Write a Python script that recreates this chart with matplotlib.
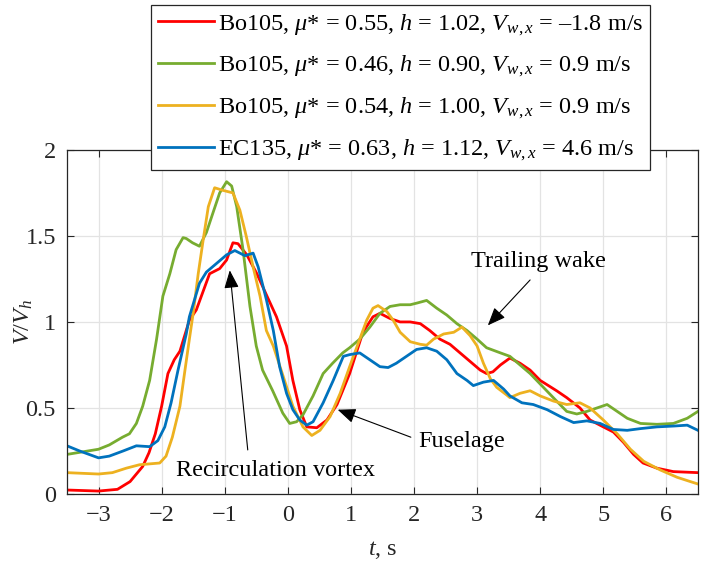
import matplotlib
matplotlib.use("Agg")
import matplotlib.pyplot as plt

plt.rcParams["font.family"] = ["Liberation Serif", "DejaVu Serif"]
plt.rcParams["mathtext.fontset"] = "custom"
plt.rcParams["mathtext.rm"] = "Liberation Serif"
plt.rcParams["mathtext.it"] = "Liberation Serif:italic"

FS = 17.5

t_red = [-3.5, -3.0, -2.7, -2.5, -2.3, -2.2, -2.1, -2.0, -1.9, -1.8, -1.71, -1.56, -1.45, -1.35,
         -1.24, -1.08, -0.97, -0.87, -0.79, -0.65, -0.49, -0.33, -0.18, -0.02, 0.08, 0.19, 0.30,
         0.46, 0.62, 0.78, 0.98, 1.19, 1.35, 1.46, 1.62, 1.78, 1.94, 2.10, 2.25, 2.41, 2.57, 2.73,
         2.89, 3.05, 3.15, 3.25, 3.37, 3.52, 3.68, 3.84, 4.0, 4.26, 4.42, 4.63, 4.79, 5.0, 5.16,
         5.32, 5.48, 5.63, 5.85, 6.11, 6.5]
v_red = [0.023, 0.017, 0.027, 0.072, 0.16, 0.24, 0.35, 0.51, 0.70, 0.78, 0.83, 1.01, 1.07, 1.17,
         1.28, 1.31, 1.36, 1.46, 1.455, 1.39, 1.28, 1.15, 1.03, 0.86, 0.66, 0.49, 0.39,
         0.385, 0.43, 0.52, 0.70, 0.94, 1.03, 1.05, 1.02, 1.00, 1.00, 0.99, 0.95, 0.90, 0.87, 0.82,
         0.77, 0.72, 0.70, 0.71, 0.75, 0.79, 0.76, 0.72, 0.66, 0.60, 0.56, 0.50, 0.43, 0.39, 0.36,
         0.30, 0.23, 0.18, 0.15, 0.13, 0.124]

t_green = [-3.5, -3.0, -2.83, -2.62, -2.51, -2.40, -2.30, -2.19, -2.08, -1.98, -1.87, -1.77,
           -1.66, -1.61, -1.51, -1.40, -1.29, -1.19, -1.08, -0.97, -0.89, -0.81, -0.71, -0.60,
           -0.50, -0.40, -0.24, -0.08, 0.03, 0.14, 0.24, 0.40, 0.56, 0.71, 0.87, 0.98, 1.14,
           1.30, 1.46, 1.62, 1.78, 1.94, 2.05, 2.20, 2.36, 2.52, 2.68, 2.84, 3.0, 3.15, 3.37,
           3.52, 3.68, 3.84, 4.05, 4.26, 4.42, 4.58, 4.74, 4.90, 5.06, 5.22, 5.38, 5.59, 5.85,
           6.11, 6.33, 6.5]
v_green = [0.23, 0.26, 0.285, 0.33, 0.35, 0.41, 0.51, 0.66, 0.90, 1.15, 1.28, 1.42,
           1.49, 1.485, 1.46, 1.44, 1.52, 1.63, 1.75, 1.815, 1.79, 1.67, 1.42, 1.09,
           0.86, 0.72, 0.60, 0.47, 0.41, 0.42, 0.46, 0.57, 0.70, 0.76, 0.82, 0.85, 0.90,
           0.97, 1.05, 1.09, 1.10, 1.10, 1.11, 1.125, 1.08, 1.04, 0.99, 0.95, 0.90, 0.85, 0.82,
           0.80, 0.75, 0.70, 0.62, 0.54, 0.48, 0.465, 0.48, 0.50, 0.52, 0.48, 0.44, 0.41, 0.405,
           0.41, 0.44, 0.48]

t_yellow = [-3.5, -3.0, -2.78, -2.56, -2.35, -2.19, -2.03, -1.93, -1.83, -1.71, -1.63, -1.56,
            -1.50, -1.42, -1.34, -1.26, -1.16, -1.03, -0.87, -0.76, -0.66, -0.55, -0.44, -0.34,
            -0.23, -0.07, 0.08, 0.24, 0.38, 0.51, 0.67, 0.83, 0.98, 1.14, 1.25, 1.35, 1.43,
            1.57, 1.67, 1.78, 1.94, 2.10, 2.20, 2.31, 2.47, 2.63, 2.76, 2.89, 3.0, 3.10, 3.21,
            3.31, 3.47, 3.52, 3.68, 3.84, 4.0, 4.21, 4.42, 4.63, 4.79, 5.0, 5.22, 5.43, 5.64,
            5.90, 6.17, 6.38, 6.5]
v_yellow = [0.124, 0.116, 0.124, 0.15, 0.17, 0.175, 0.18, 0.22, 0.33, 0.51, 0.72, 0.90,
            1.05, 1.28, 1.48, 1.67, 1.78, 1.765, 1.75, 1.65, 1.50, 1.32, 1.15, 0.95,
            0.86, 0.68, 0.51, 0.39, 0.34, 0.37, 0.45, 0.585, 0.74, 0.90, 1.01, 1.08, 1.095,
            1.06, 1.01, 0.94, 0.885, 0.87, 0.865, 0.90, 0.93, 0.94, 0.97, 0.92, 0.86, 0.76, 0.67,
            0.62, 0.575, 0.56, 0.585, 0.60, 0.57, 0.54, 0.52, 0.53, 0.50, 0.43, 0.35, 0.26, 0.19,
            0.14, 0.097, 0.072, 0.058]

t_blue = [-3.5, -3.30, -3.0, -2.83, -2.61, -2.40, -2.19, -2.06, -1.95, -1.85, -1.74, -1.61,
          -1.56, -1.40, -1.29, -1.13, -0.97, -0.84, -0.68, -0.55, -0.47, -0.34, -0.23, -0.13,
          -0.02, 0.08, 0.19, 0.30, 0.40, 0.56, 0.72, 0.88, 0.98, 1.14, 1.30, 1.46, 1.59, 1.72,
          1.88, 2.04, 2.20, 2.36, 2.52, 2.68, 2.84, 2.94, 3.10, 3.26, 3.42, 3.52, 3.71, 3.89,
          4.11, 4.32, 4.53, 4.74, 4.95, 5.16, 5.38, 5.59, 5.85, 6.12, 6.33, 6.5]
v_blue = [0.28, 0.25, 0.21, 0.22, 0.25, 0.28, 0.275, 0.31, 0.39, 0.53, 0.72, 0.93,
          1.03, 1.225, 1.29, 1.34, 1.39, 1.415, 1.385, 1.40, 1.32, 1.13, 0.95, 0.74,
          0.585, 0.49, 0.43, 0.40, 0.42, 0.53, 0.66, 0.80, 0.81, 0.82, 0.78, 0.74, 0.735, 0.76,
          0.80, 0.84, 0.85, 0.83, 0.78, 0.70, 0.66, 0.63, 0.65, 0.66, 0.61, 0.57, 0.53, 0.52,
          0.49, 0.45, 0.415, 0.425, 0.41, 0.375, 0.37, 0.38, 0.39, 0.395, 0.40, 0.37]

labels = [
    r"Bo105, $\mu$* = 0.55, $h$ = 1.02, $V_{w,x}$ = –1.8 m/s",
    r"Bo105, $\mu$* = 0.46, $h$ = 0.90, $V_{w,x}$ = 0.9 m/s",
    r"Bo105, $\mu$* = 0.54, $h$ = 1.00, $V_{w,x}$ = 0.9 m/s",
    r"EC135, $\mu$* = 0.63, $h$ = 1.12, $V_{w,x}$ = 4.6 m/s",
]
colors = ["#ff0000", "#77ac30", "#edb120", "#0072bd"]

x_ticks = [-3, -2, -1, 0, 1, 2, 3, 4, 5, 6]
y_ticks = [0, 0.5, 1, 1.5, 2]
y_ticklabels = ["0", "0.5", "1", "1.5", "2"]

fig = plt.figure(figsize=(7.05, 5.65), dpi=100)
ax = fig.add_axes([0.095, 0.1257, 0.895, 0.609])

series = [(t_red, v_red), (t_green, v_green), (t_yellow, v_yellow), (t_blue, v_blue)]
handles = []
for (t, v), c, lab in zip(series, colors, labels):
    h, = ax.plot(t, v, color=c, lw=2.0, label=lab)
    handles.append(h)

ax.set_xlim(-3.5, 6.5)
ax.set_ylim(0, 2)
ax.set_xticks(x_ticks)
ax.set_yticks(y_ticks)
ax.set_yticklabels(y_ticklabels)
ax.grid(True, color="#e3e3e3", lw=0.9)
ax.set_axisbelow(True)
ax.tick_params(direction="in", top=True, right=True, labelsize=FS, colors="#262626",
               length=5, pad=8)
for sp in ax.spines.values():
    sp.set_color("#262626")
    sp.set_linewidth(0.9)
ax.set_xlabel(r"$t$, s", fontsize=FS, color="#262626", labelpad=9)
ax.set_ylabel(r"$V/V_h$", fontsize=FS, color="#262626")
ax.yaxis.set_label_coords(-0.05, 0.5)

arrow = dict(arrowstyle="-|>,head_length=1.1,head_width=0.45", color="black", lw=0.8,
             shrinkA=0, shrinkB=0)
ax.annotate("", xy=(3.17, 0.98), xytext=(3.84, 1.244), arrowprops=arrow)
ax.text(3.97, 1.35, "Trailing wake", fontsize=FS, ha="center", va="center")
ax.annotate("", xy=(0.79, 0.49), xytext=(1.95, 0.33), arrowprops=arrow)
ax.text(2.75, 0.305, "Fuselage", fontsize=FS, ha="center", va="center")
ax.annotate("", xy=(-0.92, 1.30), xytext=(-0.635, 0.256), arrowprops=arrow)
ax.text(-0.19, 0.135, "Recirculation vortex", fontsize=FS, ha="center", va="center")

leg = fig.legend(handles=handles, labels=labels, loc="upper center",
                 bbox_to_anchor=(0.568, 0.991), fontsize=FS, frameon=True,
                 fancybox=False, framealpha=1, edgecolor="#262626",
                 handlelength=2.3, handletextpad=0.15, labelspacing=0.68,
                 borderpad=0.3, borderaxespad=0)
leg.get_frame().set_linewidth(0.9)

fig.savefig("out.png", dpi=100)
